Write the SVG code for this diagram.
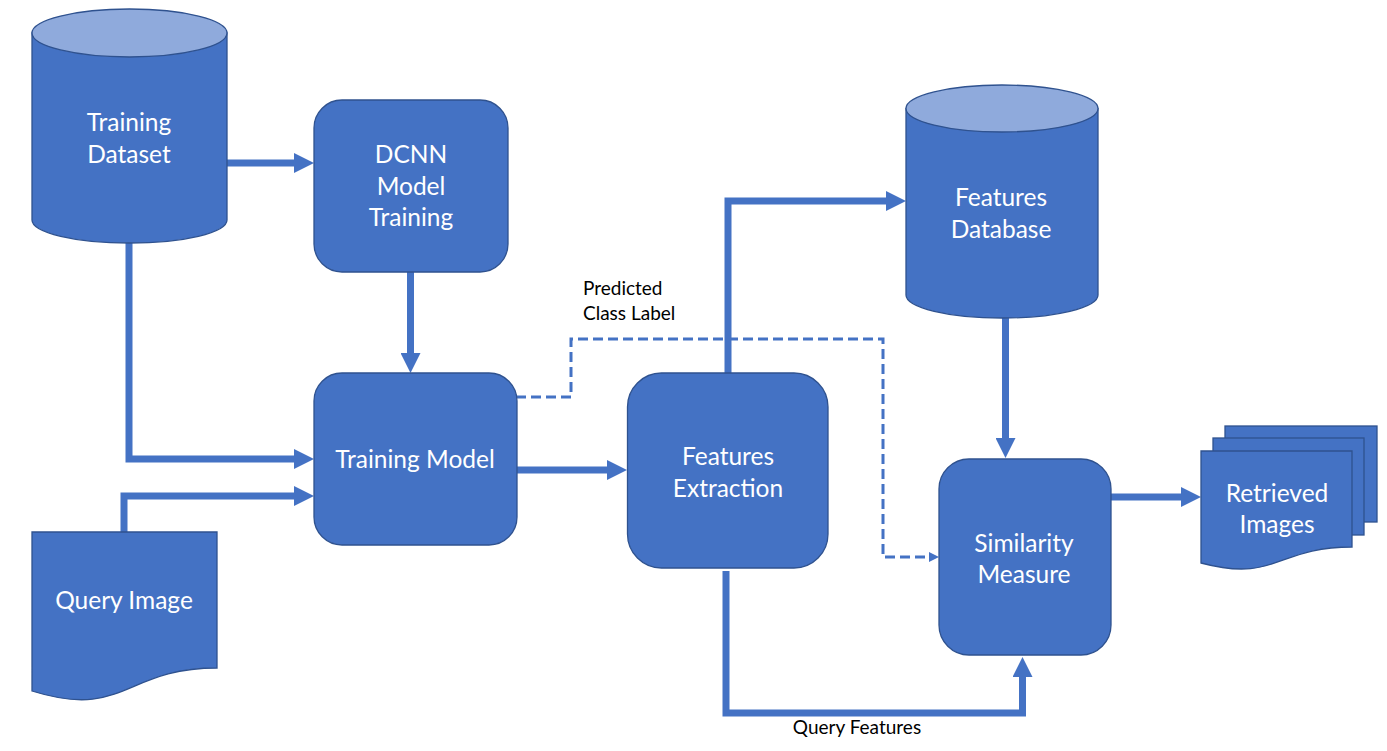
<svg xmlns="http://www.w3.org/2000/svg" width="1387" height="751" viewBox="0 0 1387 751">
<style>
.shape{fill:#4472C4;stroke:#2F528F;stroke-width:1.3}
.top{fill:#8FAADC;stroke:#2F528F;stroke-width:1.3}
.w{fill:#FFFFFF;font-family:Lato,"Open Sans",sans-serif;font-size:24.5px;text-anchor:middle}
.b{fill:#000000;font-family:Lato,"Open Sans",sans-serif;font-size:19px}
.c{fill:none;stroke:#4472C4;stroke-width:7}
.d{fill:none;stroke:#4472C4;stroke-width:3;stroke-dasharray:10,5}
</style>
<defs>
<marker id="ah" markerUnits="userSpaceOnUse" markerWidth="20" markerHeight="20" refX="10" refY="10" orient="auto" viewBox="0 0 20 20">
<path d="M0,0 L20,10 L0,20 Z" fill="#4472C4"/>
</marker>
<marker id="ahs" markerUnits="userSpaceOnUse" markerWidth="10" markerHeight="10" refX="5" refY="5" orient="auto" viewBox="0 0 10 10">
<path d="M0,0 L10,5 L0,10 Z" fill="#4472C4"/>
</marker>
</defs>

<g id="connectors">
<path class="c" d="M227,163 H304" marker-end="url(#ah)"/>
<path class="c" d="M410.5,272 V363" marker-end="url(#ah)"/>
<path class="c" d="M129,243 V459 H304" marker-end="url(#ah)"/>
<path class="c" d="M124,532 V496 H304" marker-end="url(#ah)"/>
<path class="c" d="M517,470 H617" marker-end="url(#ah)"/>
<path class="c" d="M728,373 V201 H896" marker-end="url(#ah)"/>
<path class="c" d="M1005.5,318 V448" marker-end="url(#ah)"/>
<path class="c" d="M1111,497 H1191" marker-end="url(#ah)"/>
<path class="c" d="M726,571 V713 H1022.5 V667" marker-end="url(#ah)"/>
<path class="d" d="M516,397 H571 V339 H883 V557 H934" marker-end="url(#ahs)"/>
</g>

<g id="training-dataset">
<path class="shape" d="M32,33 V220 A97.5,23 0 0 0 227,220 V33 Z"/>
<ellipse class="top" cx="129.5" cy="33" rx="97.5" ry="24"/>
<text class="w" x="129" y="131">Training</text>
<text class="w" x="129" y="163">Dataset</text>
</g>

<g id="dcnn-model-training">
<rect class="shape" x="314" y="100" width="194" height="172" rx="28"/>
<text class="w" x="411" y="163">DCNN</text>
<text class="w" x="411" y="195">Model</text>
<text class="w" x="411" y="226">Training</text>
</g>

<g id="training-model">
<rect class="shape" x="314" y="373" width="203" height="172" rx="28"/>
<text class="w" x="415" y="468">Training Model</text>
</g>

<g id="query-image">
<path class="shape" d="M32,532 H217 V668 C124.5,668 124.5,720 32,691 Z"/>
<text class="w" x="124" y="609">Query Image</text>
</g>

<g id="features-extraction">
<rect class="shape" x="627.5" y="373" width="200.5" height="195" rx="34"/>
<text class="w" x="728" y="465">Features</text>
<text class="w" x="728" y="497">Extraction</text>
</g>

<g id="features-database">
<path class="shape" d="M906,108.5 V295 A96,23 0 0 0 1098,295 V108.5 Z"/>
<ellipse class="top" cx="1002" cy="108.5" rx="96" ry="23.5"/>
<text class="w" x="1001" y="206">Features</text>
<text class="w" x="1001" y="238">Database</text>
</g>

<g id="similarity-measure">
<rect class="shape" x="939" y="459" width="172" height="196" rx="30"/>
<text class="w" x="1024" y="552">Similarity</text>
<text class="w" x="1024" y="583">Measure</text>
</g>

<g id="retrieved-images">
<rect class="shape" x="1225" y="426" width="152" height="96"/>
<rect class="shape" x="1213" y="438" width="151" height="97"/>
<path class="shape" d="M1201,451 H1352 V547 C1276.5,547 1276.5,583 1201,563 Z"/>
<text class="w" x="1277" y="502">Retrieved</text>
<text class="w" x="1277" y="533">Images</text>
</g>

<g id="labels">
<text class="b" x="583" y="295">Predicted</text>
<text class="b" x="583" y="320">Class Label</text>
<text class="b" x="857" y="734" text-anchor="middle">Query Features</text>
</g>
</svg>
